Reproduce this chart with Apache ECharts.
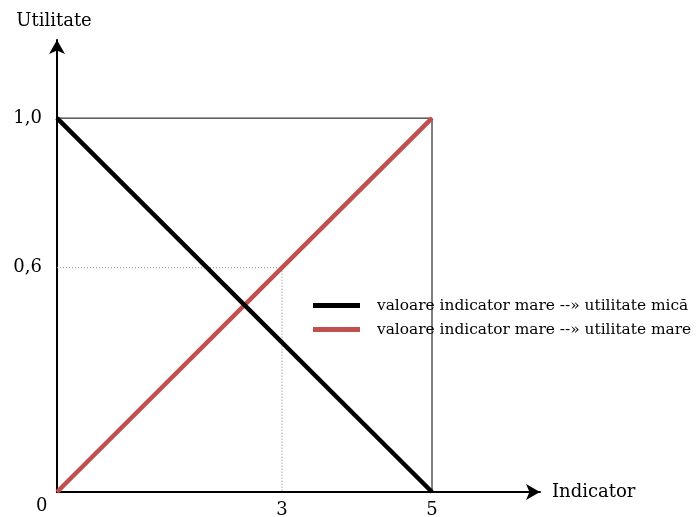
<!DOCTYPE html>
<html><head><meta charset="utf-8">
<script src="https://cdn.jsdelivr.net/npm/echarts@6/dist/echarts.min.js"></script>
<style>html,body{margin:0;padding:0;background:#fff}#c{width:700px;height:517px}</style>
</head><body><div id="c"></div>
<script>
const seriesNames = ['valoare indicator mare --» utilitate mică', 'valoare indicator mare --» utilitate mare'];
const decreasing = [[0, 1.0], [5, 0]];
const increasing = [[0, 0], [5, 1.0]];
const boxLine = [[0, 1.0], [5, 1.0], [5, 0]];
const guideLine = [[0, 0.6], [3, 0.6], [3, 0]];
const xTicks = [3, 5];
const yTicks = [0.6, 1.0];
const axisNames = ['Indicator', 'Utilitate'];
const FONT = 'DejaVu Serif';

const chart = echarts.init(document.getElementById('c'));
chart.setOption({
  animation: false,
  grid: {left: 57, right: 160, top: 40, bottom: 25, containLabel: false, outerBoundsMode: 'none'},
  xAxis: {
    type: 'value', min: 0, max: 6.44,
    name: axisNames[0], nameLocation: 'end', nameGap: 12,
    nameTextStyle: {fontFamily: FONT, fontSize: 18, color: '#000', padding: [4, 0, 0, 0]},
    axisLine: {lineStyle: {color: '#000', width: 2}, symbol: ['none', 'arrow'], symbolSize: [12, 14]},
    axisTick: {show: false},
    splitLine: {show: false},
    axisLabel: {customValues: xTicks, formatter: v => String(v), fontFamily: FONT, fontSize: 18, color: '#000', margin: 9}
  },
  yAxis: {
    type: 'value', min: 0, max: 1.209,
    name: axisNames[1], nameLocation: 'end', nameGap: 10,
    nameTextStyle: {fontFamily: FONT, fontSize: 18, color: '#000', padding: [0, 6, 0, 0]},
    axisLine: {lineStyle: {color: '#000', width: 2}, symbol: ['none', 'arrow'], symbolSize: [12, 14]},
    axisTick: {show: false},
    splitLine: {show: false},
    axisLabel: {customValues: yTicks, formatter: v => v.toFixed(1).replace('.', ','), fontFamily: FONT, fontSize: 18, color: '#000', margin: 15}
  },
  legend: {
    orient: 'vertical', left: 308, top: 293, itemWidth: 47, itemHeight: 5, itemGap: 9,
    icon: 'rect',
    textStyle: {fontFamily: FONT, fontSize: 15.4, color: '#000', padding: [0, 0, 0, 12]},
    data: seriesNames
  },
  graphic: [{type: 'text', left: 36, top: 497, style: {text: '0', font: '18px "DejaVu Serif"', fill: '#000'}}],
  series: [
    {type: 'line', data: boxLine, symbol: 'none', silent: true, lineStyle: {color: '#000', width: 1}, z: 1},
    {type: 'line', data: guideLine, symbol: 'none', silent: true, lineStyle: {color: '#888', width: 1, type: [1, 2]}, z: 1},
    {name: seriesNames[0], type: 'line', data: decreasing, symbol: 'none', color: '#000', lineStyle: {color: '#000', width: 4.5}, z: 3},
    {name: seriesNames[1], type: 'line', data: increasing, symbol: 'none', color: '#C0504D', lineStyle: {color: '#C0504D', width: 4.5}, z: 2}
  ]
});
</script></body></html>
